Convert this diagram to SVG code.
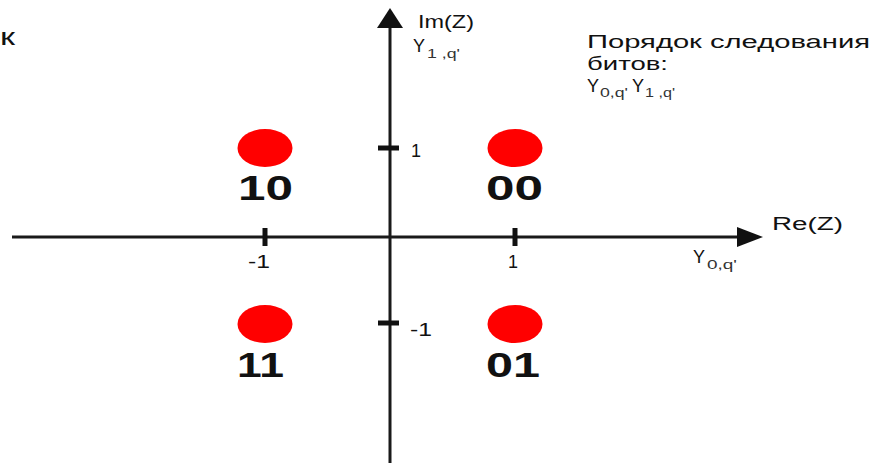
<svg xmlns="http://www.w3.org/2000/svg" width="874" height="466" viewBox="0 0 874 466" font-family="Liberation Sans">
<style>
.t{fill:#111}
.ax{stroke:#1a1a1a;stroke-width:3;fill:none}
.tk{stroke:#111;stroke-width:5}
.pt{fill:#ff0000}
.big{font-size:35px;font-weight:bold;fill:#111}
.lb{font-size:18px;fill:#111}
.sub{font-size:12px;fill:#333}
</style>
<rect width="874" height="466" fill="#fff"/>
<text class="t" x="0" y="45" font-size="24" textLength="15" lengthAdjust="spacingAndGlyphs">к</text>
<g id="connectors">
<line class="ax" x1="12" y1="237" x2="740" y2="237"/>
<polygon points="763,237 737,227 737,247" fill="#111"/>
<line class="ax" x1="390" y1="463" x2="390" y2="26"/>
<polygon points="390,8 377,28 403,28" fill="#111"/>
<line class="tk" x1="265" y1="228" x2="265" y2="246"/>
<line class="tk" x1="515" y1="228" x2="515" y2="246"/>
<line class="tk" x1="378" y1="148" x2="399" y2="148"/>
<line class="tk" x1="378" y1="323" x2="399" y2="323"/>
</g>
<g id="labels-axes">
<text class="lb" x="418" y="28" textLength="56" lengthAdjust="spacingAndGlyphs">Im(Z)</text>
<text class="lb" x="413" y="52">Y</text><text class="sub" x="427" y="58" textLength="33" lengthAdjust="spacingAndGlyphs">1 ,q'</text>
<text class="lb" x="772" y="230" textLength="71" lengthAdjust="spacingAndGlyphs">Re(Z)</text>
<text class="lb" x="693" y="263">Y</text><text class="sub" x="707" y="269" textLength="30" lengthAdjust="spacingAndGlyphs">0,q'</text>
<text class="lb" x="411" y="157">1</text>
<text class="lb" x="410" y="336" textLength="22" lengthAdjust="spacingAndGlyphs">-1</text>
<text class="lb" x="248" y="268" textLength="22" lengthAdjust="spacingAndGlyphs">-1</text>
<text class="lb" x="508" y="268">1</text>
</g>
<g id="legend">
<text class="lb" x="587" y="48" textLength="283" lengthAdjust="spacingAndGlyphs">Порядок следования</text>
<text class="lb" x="587" y="70" textLength="81" lengthAdjust="spacingAndGlyphs">битов:</text>
<text class="lb" x="587" y="92" font-size="17">Y</text><text class="sub" x="600" y="97" textLength="28" lengthAdjust="spacingAndGlyphs">0,q'</text>
<text class="lb" x="632" y="92">Y</text><text class="sub" x="645" y="97" textLength="30" lengthAdjust="spacingAndGlyphs">1 ,q'</text>
</g>
<g id="p10"><ellipse class="pt" cx="265" cy="148" rx="27.5" ry="19"/><text class="big" x="238" y="200" textLength="55" lengthAdjust="spacingAndGlyphs">10</text></g>
<g id="p00"><ellipse class="pt" cx="515" cy="148" rx="27.5" ry="19"/><text class="big" x="486" y="200" textLength="57" lengthAdjust="spacingAndGlyphs">00</text></g>
<g id="p11"><ellipse class="pt" cx="265" cy="324" rx="27.5" ry="19"/><text class="big" x="237" y="377" textLength="47" lengthAdjust="spacingAndGlyphs">11</text></g>
<g id="p01"><ellipse class="pt" cx="515" cy="324" rx="27.5" ry="19"/><text class="big" x="486" y="377" textLength="54" lengthAdjust="spacingAndGlyphs">01</text></g>
</svg>
